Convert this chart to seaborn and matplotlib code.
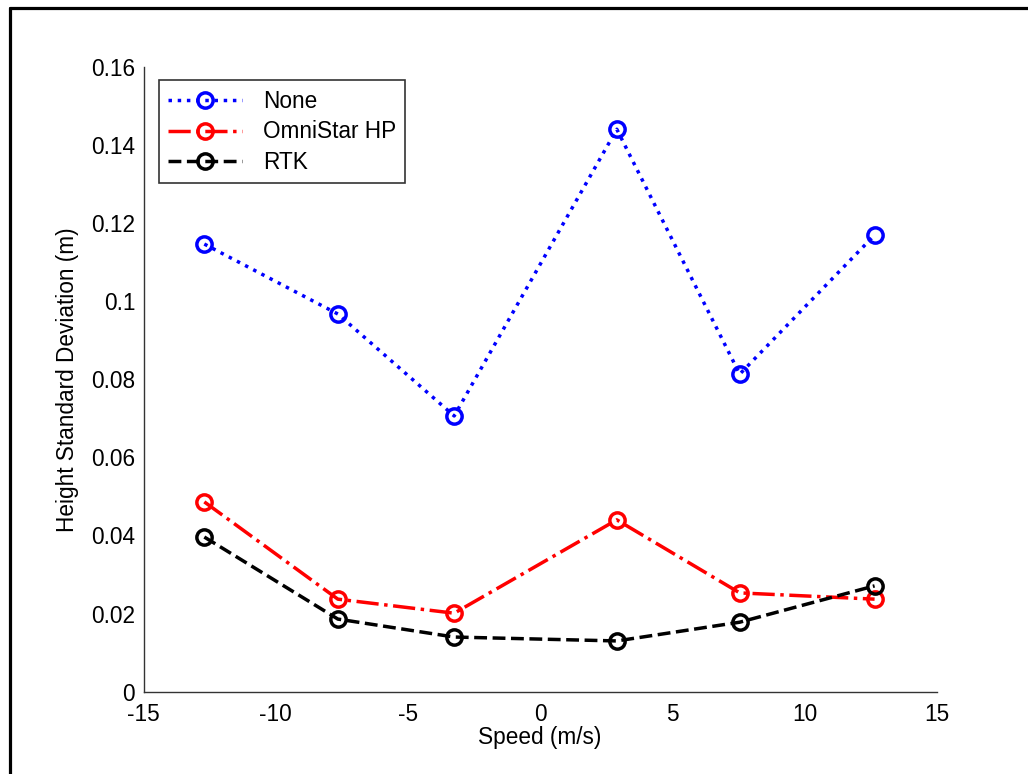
import matplotlib
matplotlib.use("Agg")
import matplotlib.pyplot as plt
from matplotlib.lines import Line2D
import seaborn as sns
import pandas as pd

# Measured values
speed = [-12.7, -7.65, -3.25, 2.9, 7.55, 12.65]
std_none = [0.1146, 0.0967, 0.0706, 0.1440, 0.0813, 0.1169]
std_omnistar = [0.0486, 0.0237, 0.0201, 0.0440, 0.0253, 0.0237]
std_rtk = [0.0396, 0.0186, 0.0140, 0.0130, 0.0178, 0.0271]

series_names = ["None", "OmniStar HP", "RTK"]
series_values = [std_none, std_omnistar, std_rtk]
series_colors = ["#0000ff", "#ff0000", "#000000"]
series_styles = [":", "-.", "--"]

x_ticks = [-15, -10, -5, 0, 5, 10, 15]
y_ticks = [0, 0.02, 0.04, 0.06, 0.08, 0.1, 0.12, 0.14, 0.16]
y_tick_labels = ["0", "0.02", "0.04", "0.06", "0.08", "0.1", "0.12", "0.14", "0.16"]

sns.set_style("white")
plt.rcParams["font.family"] = ["Liberation Sans", "DejaVu Sans"]
plt.rcParams["text.color"] = "black"
plt.rcParams["axes.labelcolor"] = "black"

FS = 16.3

fig = plt.figure(figsize=(10.28, 7.74), dpi=100)
ax = fig.add_axes([0.1396, 0.1063, 0.9112 - 0.1396, 0.9138 - 0.1063])

for name, vals, col, ls in zip(series_names, series_values, series_colors, series_styles):
    df = pd.DataFrame({"speed": speed, "std": vals})
    sns.lineplot(data=df, x="speed", y="std", ax=ax, color=col, linestyle=ls,
                 linewidth=2.5, marker="o", markersize=11, markerfacecolor="none",
                 markeredgecolor=col, markeredgewidth=2.5, label=name)

ax.set_xlim(-15, 15)
ax.set_ylim(0, 0.16)
ax.set_xticks(x_ticks)
ax.set_xticklabels([str(t) for t in x_ticks])
ax.set_yticks(y_ticks)
ax.set_yticklabels(y_tick_labels)

for side in ["top", "right"]:
    ax.spines[side].set_visible(False)
for side in ["left", "bottom"]:
    ax.spines[side].set_color("#333333")
    ax.spines[side].set_linewidth(1.0)

ax.tick_params(axis="both", direction="in", length=6, width=0.9, color="#333333",
               labelsize=FS, labelcolor="black")
ax.tick_params(axis="x", pad=8)
ax.tick_params(axis="y", pad=6)

ax.set_xlabel("Speed (m/s)", fontsize=FS, labelpad=0)
ax.set_ylabel("Height Standard Deviation (m)", fontsize=FS, labelpad=9)

leg = ax.legend(loc="upper left", bbox_to_anchor=(0.019, 0.978), fontsize=FS,
                frameon=True, fancybox=False, shadow=False, handlelength=3.3,
                handletextpad=0.9, borderpad=0.4, labelspacing=0.35, borderaxespad=0)
leg.get_frame().set_edgecolor("black")
leg.get_frame().set_linewidth(1.2)

# Frame lines along the figure's top and left edges
fig.add_artist(Line2D([10 / 1028, 10 / 1028], [0, 1 - 8 / 774], transform=fig.transFigure,
                      color="black", linewidth=2.3))
fig.add_artist(Line2D([10 / 1028, 1], [1 - 8 / 774, 1 - 8 / 774], transform=fig.transFigure,
                      color="black", linewidth=2.3))

fig.savefig("out.png", dpi=100)
